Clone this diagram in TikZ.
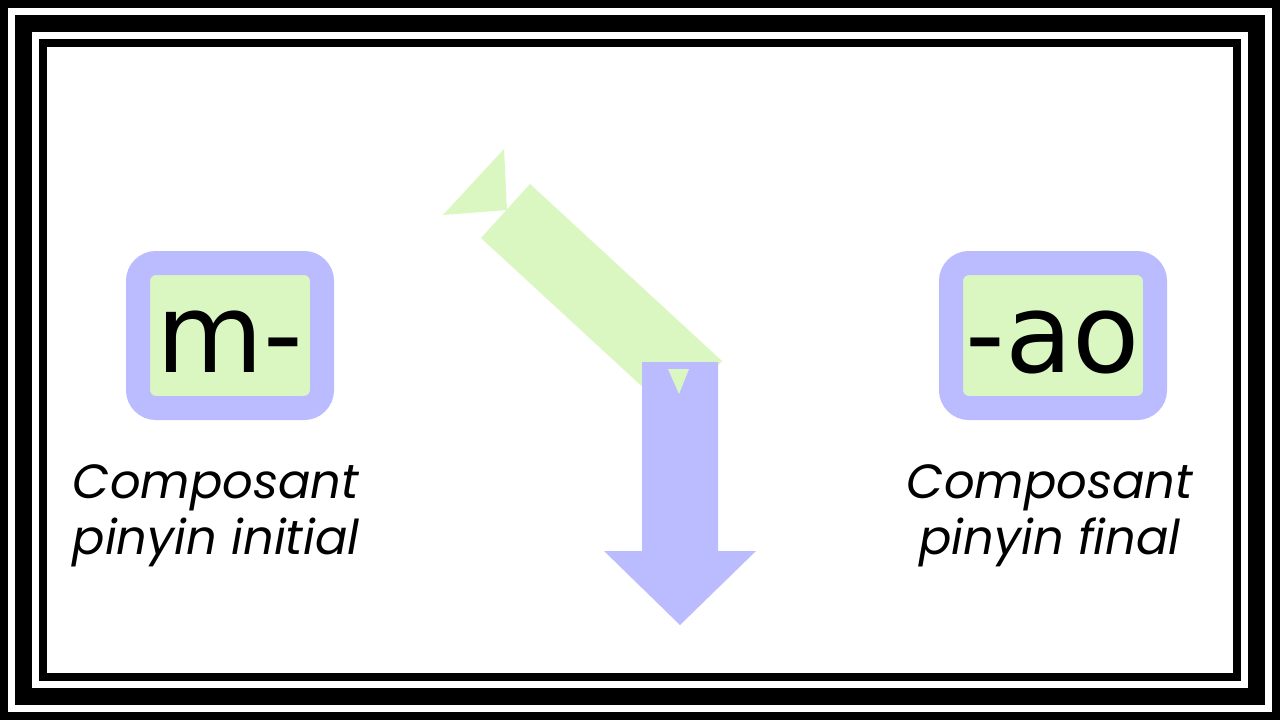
\documentclass[tikz,border=0pt]{standalone}
\usepackage{fontspec}
\setmainfont{DejaVu Sans}
\newfontfamily\legendefont{Poppins}
\usetikzlibrary{positioning}
\definecolor{lavande}{HTML}{BBBBFF}
\definecolor{vertpale}{HTML}{DAF7C2}

\begin{document}
\begin{tikzpicture}[x=1pt, y=-1pt,
  boite/.style={draw=lavande, line width=24pt, fill=vertpale, rounded corners=18pt,
    inner sep=0pt, text height=74pt, text depth=0pt, font=\fontsize{110}{110}\selectfont},
  legende/.style={align=center, font=\legendefont\itshape\fontsize{48}{56}\selectfont}]
  \useasboundingbox (0,0) rectangle (1280,720);
  % cadre
  \fill[black] (0,0) rectangle (1280,720);
  \fill[white] (8,8) rectangle (1272,712);
  \fill[black] (15,15) rectangle (1265,705);
  \fill[white] (32,32) rectangle (1248,688);
  \fill[black] (39,39) rectangle (1241,681);
  \fill[white] (47,47) rectangle (1233,673);
  % composants
  \node[boite, minimum width=184pt, minimum height=145pt] (initiale) at (230,335.5) {m-};
  \node[boite, minimum width=204pt, minimum height=145pt] (finale) at (1053,335.5) {-ao};
  \node[legende] (leginitiale) at (216,516) {Composant\\pinyin initial};
  \node[legende] (legfinale) at (1050,516) {Composant\\pinyin final};
  % fleche verte
  \fill[vertpale] (443,215) -- (504,149) -- (507,210) -- cycle;
  \fill[vertpale] (481,238) -- (530,184) -- (722,361) -- (673,415) -- cycle;
  % fleche lavande
  \fill[lavande] (642,362) -- (718,362) -- (718,551) -- (756,551) -- (680,625)
    -- (604,551) -- (642,551) -- cycle;
  \fill[vertpale] (668,369) -- (689,369) -- (679,394) -- cycle;
\end{tikzpicture}
\end{document}
